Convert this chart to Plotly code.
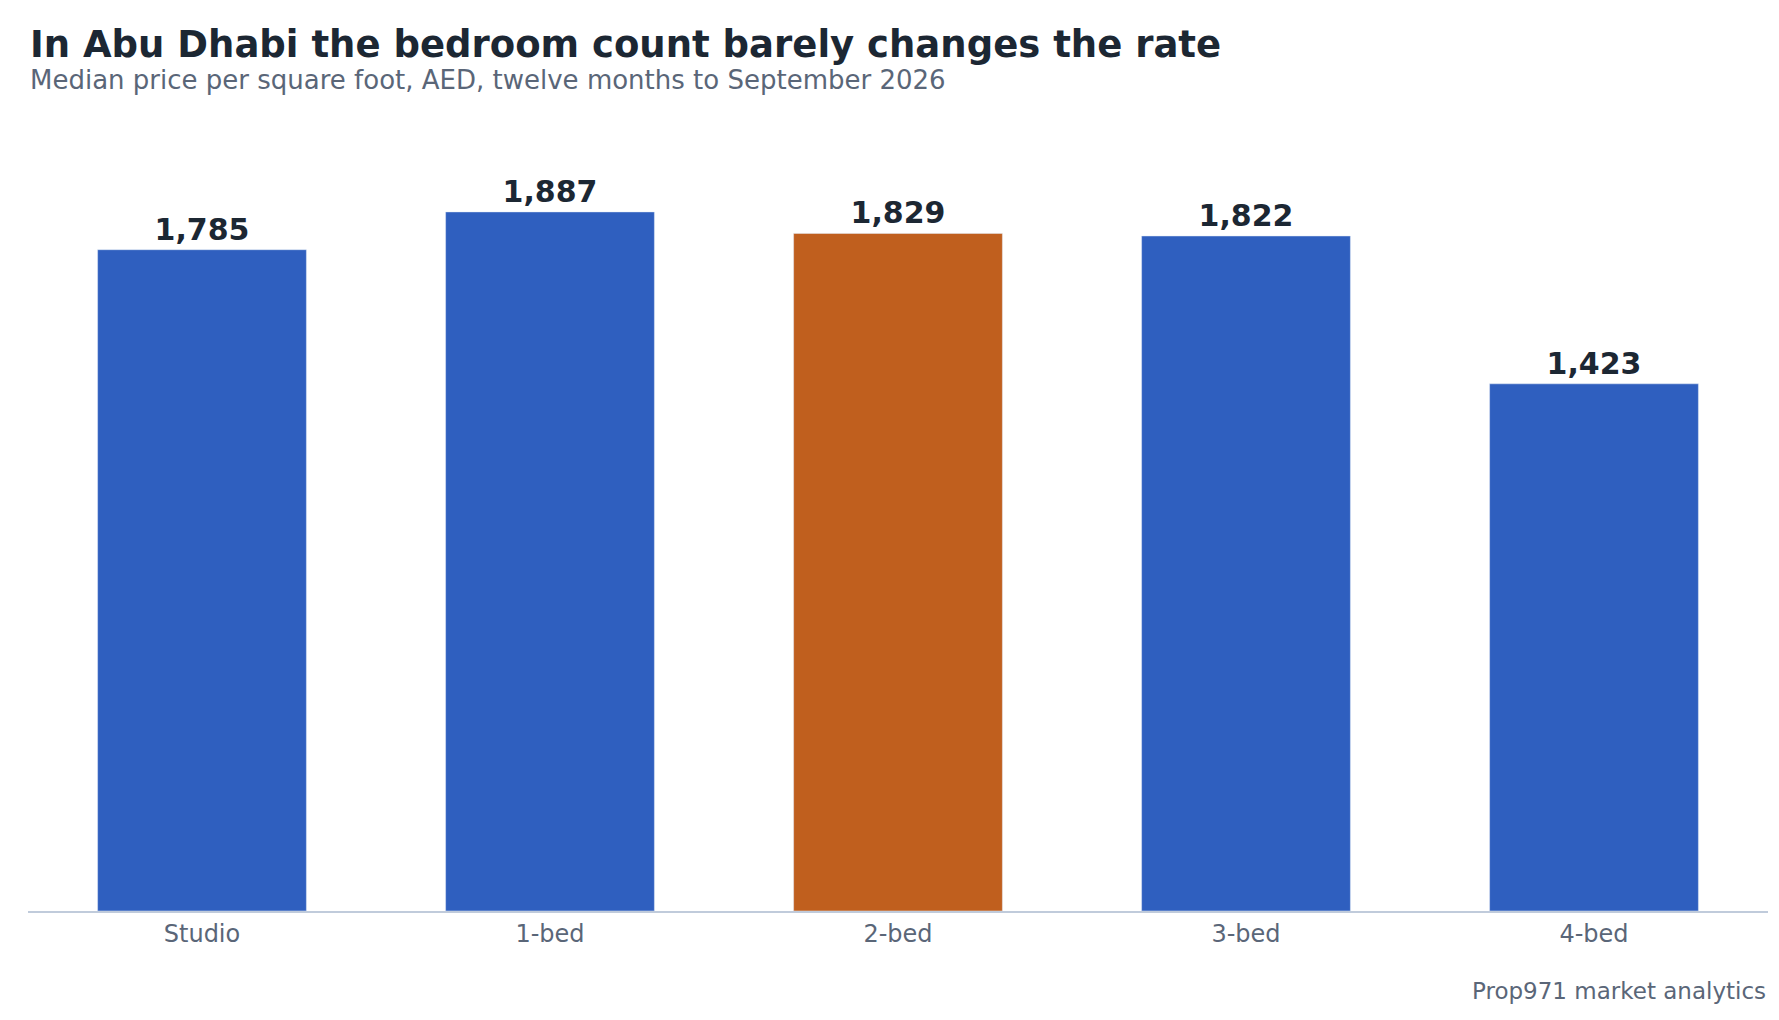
import plotly.graph_objects as go

categories = ["Studio", "1-bed", "2-bed", "3-bed", "4-bed"]
values = [1785, 1887, 1829, 1822, 1423]
colors = ["#2f5fbf", "#2f5fbf", "#c05f1e", "#2f5fbf", "#2f5fbf"]

fig = go.Figure(go.Bar(
    x=categories, y=values, marker_color=colors, width=0.6,
    text=[f"{v:,}" for v in values], textposition="outside",
    textfont=dict(family="DejaVu Sans", size=30, color="#1c2733"),
    cliponaxis=False,
))
fig.update_traces(texttemplate="<b>%{text}</b>")
fig.update_layout(
    width=1779, height=1020, plot_bgcolor="white", paper_bgcolor="white",
    margin=dict(l=20, r=19, t=125, b=117),
    font=dict(family="DejaVu Sans", color="#5a6678"),
    showlegend=False,
    xaxis=dict(showline=True, linecolor="#c0cbdb", linewidth=1.5, tickfont=dict(size=24, color="#5a6678"), ticks=""),
    yaxis=dict(visible=False, range=[0, 2100]),
    annotations=[
        dict(text="<b>In Abu Dhabi the bedroom count barely changes the rate</b>", x=0, y=1, xref="paper", yref="paper",
             xanchor="left", yanchor="top", showarrow=False, font=dict(size=37, color="#1c2733"), xshift=0, yshift=112),
        dict(text="Median price per square foot, AED, twelve months to September 2026", x=0, y=1, xref="paper", yref="paper",
             xanchor="left", yanchor="top", showarrow=False, font=dict(size=26, color="#5a6678"), yshift=70),
        dict(text="Prop971 market analytics", x=1, y=0, xref="paper", yref="paper", xanchor="right", yanchor="top",
             showarrow=False, font=dict(size=23, color="#5a6678"), yshift=-65),
    ],
)
fig.update_xaxes(title=None)
fig.write_html("out.html")
